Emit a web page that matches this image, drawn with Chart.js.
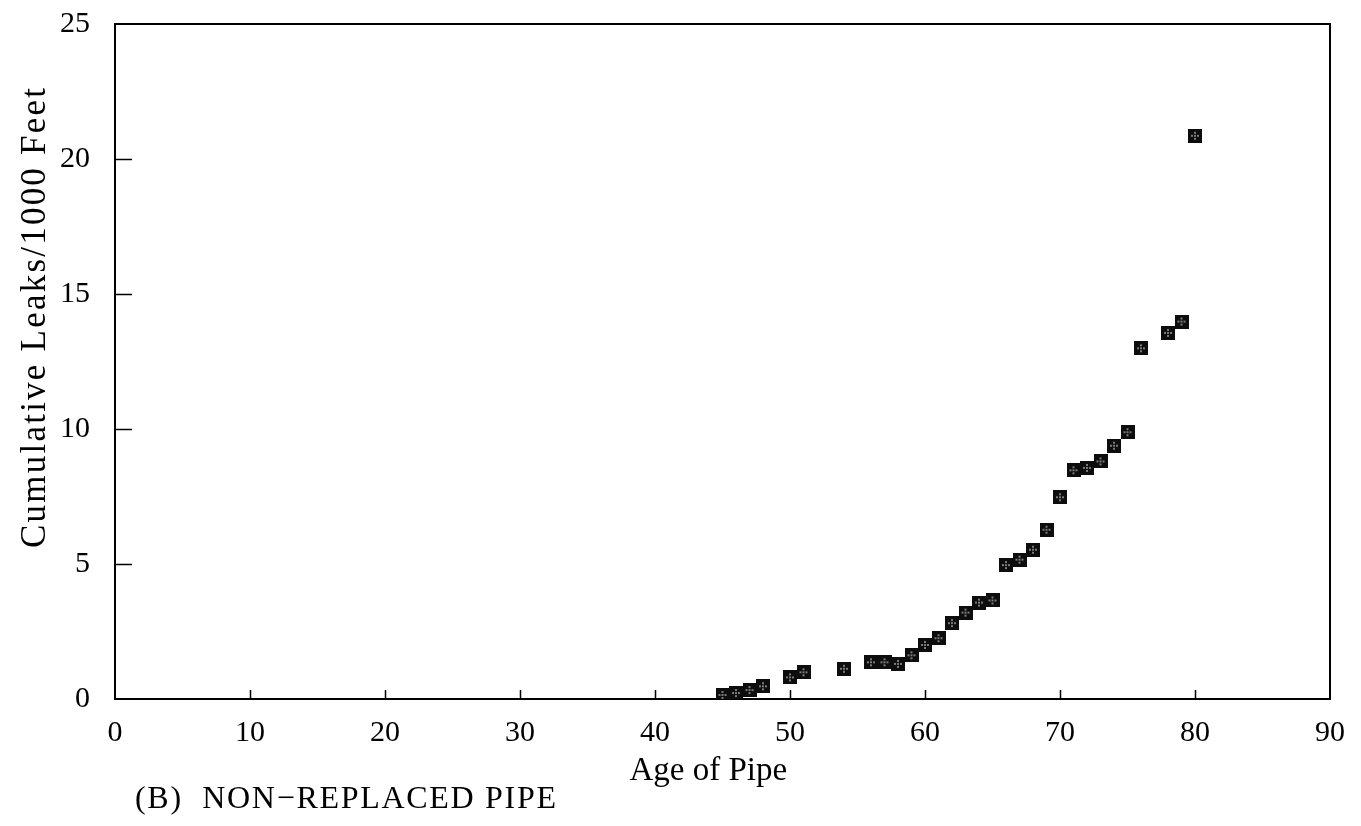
<!DOCTYPE html>
<html>
<head>
<meta charset="utf-8">
<title>Cumulative Leaks - Non-Replaced Pipe</title>
<script src="https://cdn.jsdelivr.net/npm/chart.js@4.4.0/dist/chart.umd.min.js"></script>
<style>
    html, body { margin: 0; padding: 0; background: #fff; }
    #wrap { width: 1361px; height: 826px; }
</style>
</head>
<body>
<div id="wrap"><canvas id="leaks-chart" width="1361" height="826"></canvas></div>
<script>
// Pipe age (years) and cumulative leaks per 1000 ft
const pipeAge = [45, 46, 47, 48, 50, 51, 54, 56, 57, 58, 59, 60, 61, 62, 63, 64, 65,
                 66, 67, 68, 69, 70, 71, 72, 73, 74, 75, 76, 78, 79, 80];
const cumulativeLeaks = [0.15, 0.22, 0.33, 0.47, 0.80, 0.99, 1.12, 1.36, 1.36, 1.30, 1.62, 2.00, 2.25, 2.81, 3.20, 3.57, 3.65,
                         4.96, 5.16, 5.53, 6.27, 7.47, 8.47, 8.56, 8.80, 9.38, 9.88, 12.99, 13.56, 13.98, 20.86];

const xTicks = [0, 10, 20, 30, 40, 50, 60, 70, 80, 90];
const yTicks = [0, 5, 10, 15, 20, 25];

const xTitle = 'Age of Pipe';
const yTitle = 'Cumulative Leaks/1000 Feet';
const caption = '(B)  NON\u2212REPLACED PIPE';

const SERIF = '"Liberation Serif", "Times New Roman", serif';

// Black square marker with a few light dots in it
function makeMarker() {
    const c = document.createElement('canvas');
    c.width = 14;
    c.height = 14;
    const g = c.getContext('2d');
    g.fillStyle = '#0d0d0d';
    g.fillRect(0, 0, 14, 14);
    g.fillStyle = '#cfcfcf';
    [[7, 4], [4, 7], [10, 7], [7, 10], [7, 7]].forEach(([x, y]) => {
        g.fillRect(x - 0.75, y - 0.75, 1.5, 1.5);
    });
    return c;
}

// Text with letter spacing stretched to a given width
function drawSpacedText(ctx, text, x, y, width, font, align) {
    ctx.save();
    ctx.font = font;
    ctx.letterSpacing = '0px';
    const natural = ctx.measureText(text).width;
    const gap = Math.max(0, (width - natural) / (text.length - 1));
    ctx.letterSpacing = gap + 'px';
    ctx.textBaseline = 'alphabetic';
    ctx.textAlign = 'left';
    let startX = x;
    if (align === 'center') startX = x - width / 2;
    ctx.fillText(text, startX, y);
    ctx.restore();
}

const framePlugin = {
    id: 'framePlugin',
    beforeDatasetsDraw(chart) {
        const { ctx, chartArea, scales } = chart;
        ctx.save();
        ctx.strokeStyle = '#000';
        ctx.lineWidth = 2;
        ctx.strokeRect(chartArea.left, chartArea.top,
                       chartArea.right - chartArea.left, chartArea.bottom - chartArea.top);

        // inward tick marks
        ctx.beginPath();
        xTicks.slice(1, -1).forEach(v => {
            const px = Math.round(scales.x.getPixelForValue(v)) + 0.5;
            ctx.moveTo(px, chartArea.bottom);
            ctx.lineTo(px, chartArea.bottom - 9);
        });
        yTicks.slice(1, -1).forEach(v => {
            const py = Math.round(scales.y.getPixelForValue(v)) + 0.5;
            ctx.moveTo(chartArea.left, py);
            ctx.lineTo(chartArea.left + 17, py);
        });
        ctx.lineWidth = 1.5;
        ctx.stroke();
        ctx.restore();
    },
    afterDraw(chart) {
        const { ctx } = chart;
        ctx.save();
        ctx.fillStyle = '#000';
        drawSpacedText(ctx, xTitle, 708, 780, 157, '33px ' + SERIF, 'center');
        drawSpacedText(ctx, caption, 135, 808, 421, '32px ' + SERIF, 'left');

        ctx.translate(45, 318);
        ctx.rotate(-Math.PI / 2);
        drawSpacedText(ctx, yTitle, 0, 0, 460, '35px ' + SERIF, 'center');
        ctx.restore();
    }
};

const ctx = document.getElementById('leaks-chart').getContext('2d');

new Chart(ctx, {
    type: 'scatter',
    data: {
        datasets: [{
            label: 'Non-replaced pipe',
            data: pipeAge.map((age, i) => ({ x: age, y: cumulativeLeaks[i] })),
            pointStyle: makeMarker(),
            pointRadius: 7,
            pointHoverRadius: 7
        }]
    },
    options: {
        responsive: false,
        animation: false,
        devicePixelRatio: 1,
        layout: {
            padding: { top: 24, right: 31, left: 0, bottom: 0 }
        },
        plugins: {
            legend: { display: false },
            tooltip: { enabled: false }
        },
        scales: {
            x: {
                type: 'linear',
                min: 0,
                max: 90,
                afterBuildTicks: scale => { scale.ticks = xTicks.map(v => ({ value: v })); },
                afterFit: scale => {
                    scale.height = 127;
                    scale.paddingLeft = 0;
                    scale.paddingRight = 0;
                },
                grid: { display: false, drawTicks: false },
                border: { display: false },
                ticks: {
                    color: '#000',
                    padding: 16,
                    maxRotation: 0,
                    font: { family: SERIF, size: 30 }
                }
            },
            y: {
                type: 'linear',
                min: 0,
                max: 25,
                afterBuildTicks: scale => { scale.ticks = yTicks.map(v => ({ value: v })); },
                afterFit: scale => {
                    scale.width = 115;
                    scale.paddingTop = 0;
                    scale.paddingBottom = 0;
                },
                grid: { display: false, drawTicks: false },
                border: { display: false },
                ticks: {
                    color: '#000',
                    padding: 25,
                    font: { family: SERIF, size: 30 }
                }
            }
        }
    },
    plugins: [framePlugin]
});
</script>
</body>
</html>
